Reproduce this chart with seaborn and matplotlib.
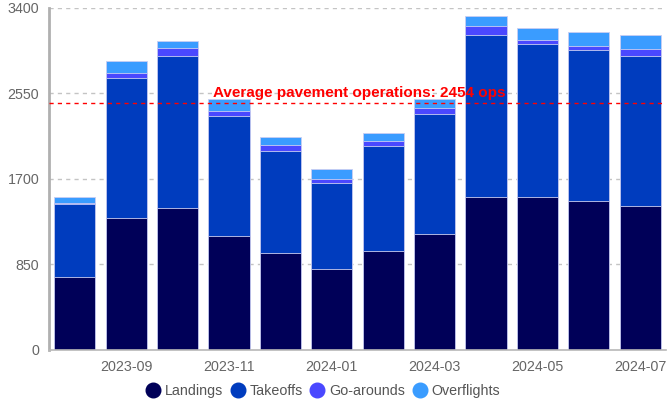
import numpy as np
import pandas as pd
import matplotlib
matplotlib.use("Agg")
import matplotlib.pyplot as plt
from matplotlib.lines import Line2D
import seaborn as sns

# ── data ─────────────────────────────────────────────────
months = ['2023-08', '2023-09', '2023-10', '2023-11', '2023-12', '2024-01',
          '2024-02', '2024-03', '2024-04', '2024-05', '2024-06', '2024-07']
landings    = [722, 1314, 1414, 1132, 960, 801, 983, 1152, 1516, 1516, 1477, 1433]
takeoffs    = [730, 1386, 1504, 1190, 1012, 859, 1038, 1187, 1608, 1528, 1504, 1485]
go_arounds  = [10, 53, 77, 53, 66, 43, 50, 63, 92, 40, 43, 73]
overflights = [56, 122, 79, 120, 82, 96, 89, 86, 106, 116, 133, 142]
tick_months = ['2023-09', '2023-11', '2024-01', '2024-03', '2024-05', '2024-07']
y_ticks = [0, 850, 1700, 2550, 3400]

series = ['Landings', 'Takeoffs', 'Go-arounds', 'Overflights']
COLORS = {
    'Landings':    '#000058',
    'Takeoffs':    '#003cbe',
    'Go-arounds':  '#4a48ff',
    'Overflights': '#3a9cff',
}

df = pd.DataFrame({'Month': months, 'Landings': landings, 'Takeoffs': takeoffs,
                   'Go-arounds': go_arounds, 'Overflights': overflights})
# cumulative tops for stacking
cum = df[series].cumsum(axis=1)
avg_pavement = round((df['Landings'] + df['Takeoffs']).mean())

sns.set_style('white')
plt.rcParams['font.family'] = ['Liberation Sans', 'DejaVu Sans']

fig = plt.figure(figsize=(6.67, 4.05), dpi=100)
ax = fig.add_axes([0.0735, 0.136, 0.925, 0.845])

# draw tallest layer first, then overlay lower layers
for s in reversed(series):
    sns.barplot(x=df['Month'], y=cum[s], color=COLORS[s], ax=ax,
                width=0.8, saturation=1, edgecolor='#c9cdf2', linewidth=0.6)

ax.axhline(avg_pavement, color='#ff0000', ls=(0, (3, 3)), lw=1, zorder=5)
ax.text(2.68, avg_pavement + 30, f'Average pavement operations: {avg_pavement} ops',
        color='#ff0000', fontsize=11, fontweight='bold', va='bottom', ha='left', zorder=6)

ax.set_xlim(-0.5, len(months) - 0.5)
ax.set_ylim(0, 3400)
ax.set_yticks(y_ticks)
ax.set_yticklabels([str(v) for v in y_ticks])
ax.set_xticks([months.index(m) for m in tick_months])
ax.set_xticklabels(tick_months)
ax.set_xlabel('')
ax.set_ylabel('')

for v in y_ticks[1:]:
    ax.axhline(v, color='#c4c4c4', ls=(0, (3, 3)), lw=1, zorder=0)
ax.set_axisbelow(True)

for sp in ['top', 'right']:
    ax.spines[sp].set_visible(False)
ax.spines['left'].set_color('#b0b0b0')
ax.spines['left'].set_linewidth(2)
ax.spines['bottom'].set_color('#b8b8b8')
ax.spines['bottom'].set_linewidth(1.2)
ax.tick_params(axis='both', colors='#b0b0b0', labelcolor='#666666',
               labelsize=10.3, length=5, width=1.2, pad=2)

handles = [Line2D([0], [0], marker='o', ls='', markersize=10.5,
                  markerfacecolor=COLORS[s], markeredgecolor=COLORS[s]) for s in series]
fig.legend(handles, series, loc='center', bbox_to_anchor=(0.484, 0.035), ncol=4,
           frameon=False, fontsize=10.3, handlelength=1.0, handletextpad=0.3,
           columnspacing=0.55, labelcolor='#555555')

plt.savefig('out.png', dpi=100, facecolor='white')
